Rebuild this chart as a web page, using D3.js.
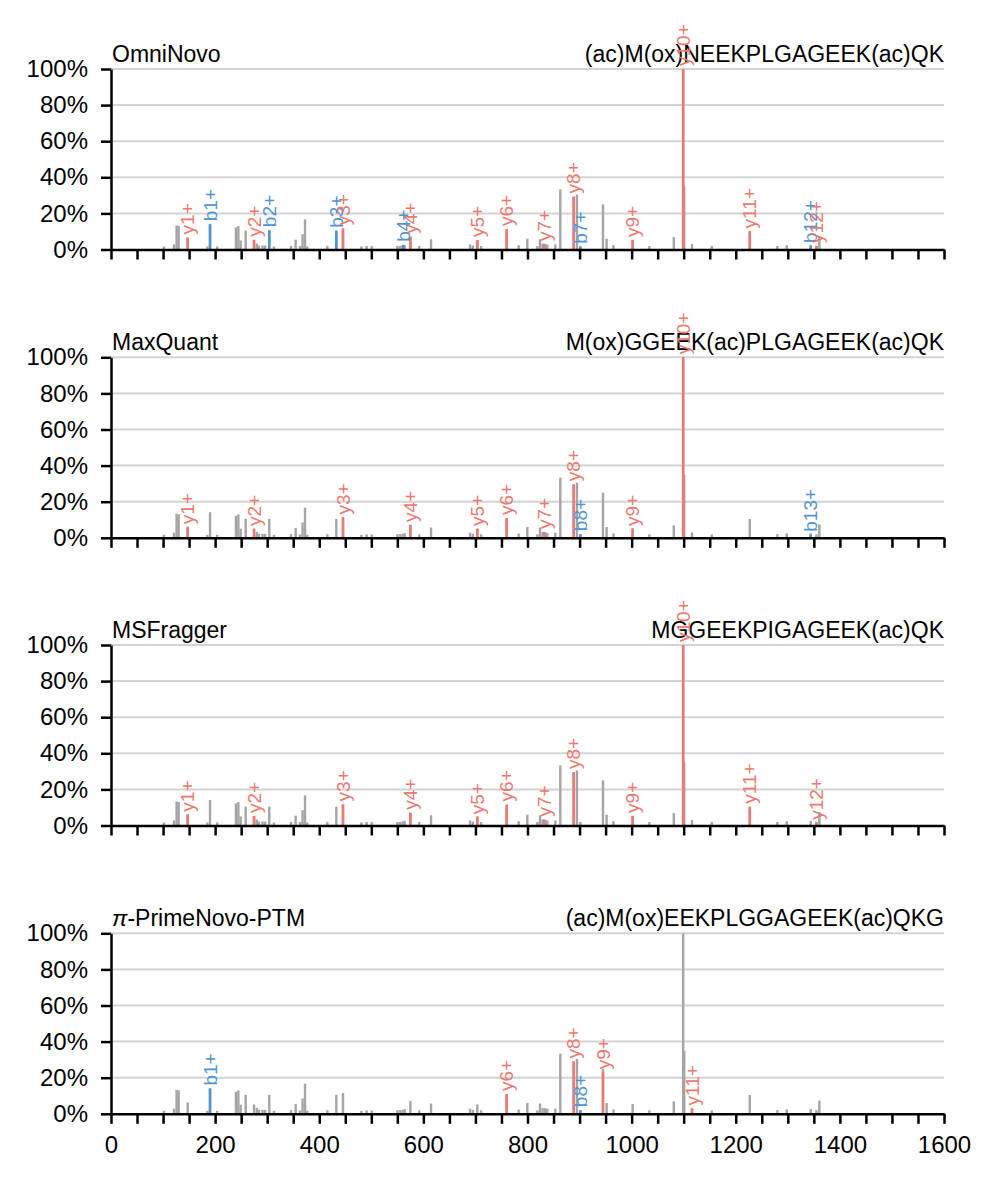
<!DOCTYPE html>
<html>
<head>
<meta charset="utf-8">
<script src="https://cdn.jsdelivr.net/npm/d3@7"></script>
<style>
  body { margin: 0; background: #fff; }
  svg text { font-family: "Liberation Sans", Arial, sans-serif; }
</style>
</head>
<body>
<svg id="chart" width="998" height="1185"></svg>
<script>
// panel names and predicted sequences
const methods = ["OmniNovo", "MaxQuant", "MSFragger", "PrimeNovo-PTM"];
const sequences = [
  "(ac)M(ox)NEEKPLGAGEEK(ac)QK",
  "M(ox)GGEEK(ac)PLGAGEEK(ac)QK",
  "MGGEEKPIGAGEEK(ac)QK",
  "(ac)M(ox)EEKPLGGAGEEK(ac)QKG"
];

// experimental spectrum (same in every panel): m/z and relative intensity %
const peakMz = [101.8, 121, 126, 130, 147.3, 185, 190.2, 204, 240, 244.6, 249, 258.7,
  274.7, 280, 284, 291, 296, 304, 313, 345.8, 354.7, 363, 368, 372.7, 377, 415.5,
  432.8, 445.6, 481, 491, 501, 550, 555, 560, 564, 575, 592, 614.7, 689.6, 695,
  703.6, 711, 760, 783, 799.7, 819, 824, 829, 834, 838, 853.5, 863, 888.8, 895,
  901.5, 945, 952, 965, 1002, 1034, 1081, 1099, 1101, 1116, 1154, 1227, 1280,
  1298, 1344, 1355, 1360.6];
const peakInt = [1.7, 2.8, 13.3, 13.0, 6.3, 1.7, 14.2, 1.7, 12.2, 13.0, 5.0, 10.5,
  5.2, 3.3, 2.2, 2.2, 2.2, 10.5, 1.7, 2.0, 5.4, 1.9, 8.5, 16.7, 1.7, 2.0,
  10.5, 11.5, 1.7, 1.9, 1.9, 2.0, 2.0, 2.2, 2.6, 7.2, 1.9, 5.7, 2.8, 2.2,
  5.2, 1.9, 11, 2.4, 6.0, 1.9, 5.7, 3.3, 3.1, 2.8, 2.8, 33.3, 29, 30.5,
  2.0, 25, 6, 2.4, 5.4, 1.9, 6.9, 100, 35, 3, 1.9, 10.4, 2.0,
  2.4, 2.6, 2.0, 7.4];

// matched fragment ions per panel: [label, m/z, intensity %]
const omniIons = [
  ["y1+", 147.3, 6.7], ["b1+", 190.2, 14], ["y2+", 274.7, 5.4], ["b2+", 304, 10.7],
  ["b3+", 432.8, 10.4], ["y3+", 445.6, 11.8], ["b4+", 561, 2.6], ["y4+", 575, 7],
  ["y5+", 703.6, 5.2], ["y6+", 760, 11.3], ["y7+", 832, 3], ["y8+", 888.8, 29.4],
  ["b7+", 901.5, 1.5], ["y9+", 1002, 5.2], ["y10+", 1099, 100], ["y11+", 1227, 10],
  ["b12+", 1344, 2], ["y12+", 1355, 2]
];
const maxquantIons = [
  ["y1+", 147.3, 5.8], ["y2+", 274.7, 4.9], ["y3+", 445.6, 11.2], ["y4+", 575, 7.1],
  ["y5+", 703.6, 4.9], ["y6+", 760, 11], ["y7+", 832, 3.2], ["y8+", 888.8, 29.7],
  ["b8+", 901.5, 2], ["y9+", 1002, 4.9], ["y10+", 1099, 100], ["b13+", 1344, 1.7]
];
const msfraggerIons = [
  ["y1+", 147.3, 6], ["y2+", 274.7, 5.2], ["y3+", 445.6, 11.7], ["y4+", 575, 7],
  ["y5+", 703.6, 4.6], ["y6+", 760, 11.7], ["y7+", 832, 3.3], ["y8+", 888.8, 29.6],
  ["y9+", 1002, 5.2], ["y10+", 1099, 100], ["y11+", 1227, 10.4], ["y12+", 1355, 1.5]
];
const primeIons = [
  ["b1+", 190.2, 14], ["y6+", 760, 11], ["y8+", 888.8, 29], ["b8+", 901.5, 2],
  ["y9+", 945, 23], ["y11+", 1116, 3]
];
const panelIons = [omniIons, maxquantIons, msfraggerIons, primeIons];

const xTicks = d3.range(0, 1601, 50);
const xLabelTicks = [0, 200, 400, 600, 800, 1000, 1200, 1400, 1600];
const yTicks = [0, 20, 40, 60, 80, 100];

const red = "#ec7a70", blue = "#4f95d6", grey = "#a5a5a5";

const svg = d3.select("#chart");
svg.append("rect").attr("width", 998).attr("height", 1185).attr("fill", "#fff");

const left = 111, right = 944;
const panelTop = [69, 357.3, 645, 933.3];
const panelH = 180.5;

const x = d3.scaleLinear().domain([0, 1600]).range([left, right]);

panelTop.forEach((top, i) => {
  const y = d3.scaleLinear().domain([0, 100]).range([top + panelH, top]);
  const g = svg.append("g");

  // gridlines
  g.selectAll(".grid").data(yTicks.slice(1)).join("line")
    .attr("x1", left).attr("x2", right)
    .attr("y1", d => y(d)).attr("y2", d => y(d))
    .attr("stroke", "#d4d4d4").attr("stroke-width", 2);

  // experimental peaks
  g.selectAll(".pk").data(d3.zip(peakMz, peakInt)).join("line")
    .attr("x1", d => x(d[0])).attr("x2", d => x(d[0]))
    .attr("y1", y(0)).attr("y2", d => y(d[1]))
    .attr("stroke", grey).attr("stroke-width", 2.4);

  // matched ions
  const ions = panelIons[i];
  const col = d => d[0][0] === "b" ? blue : red;
  g.selectAll(".ion").data(ions).join("line")
    .attr("x1", d => x(d[1])).attr("x2", d => x(d[1]))
    .attr("y1", y(0)).attr("y2", d => y(d[2]))
    .attr("stroke", col).attr("stroke-width", 2.6);

  // titles
  const t = g.append("text").attr("x", left + 1).attr("y", top - 7)
    .attr("font-size", 23).attr("fill", "#000");
  if (i === 3) {
    t.append("tspan").attr("font-style", "italic").text("π");
    t.append("tspan").text("-" + methods[i]);
  } else {
    t.text(methods[i]);
  }
  g.append("text").attr("x", right).attr("y", top - 7)
    .attr("text-anchor", "end").attr("font-size", 23).attr("fill", "#000")
    .text(sequences[i]);

  // ion labels
  g.selectAll(".lab").data(ions).join("text")
    .attr("transform", d => `translate(${x(d[1])},${y(d[2]) - 3}) rotate(-90)`)
    .attr("dy", "0.35em").attr("font-size", 19).attr("fill", col)
    .text(d => d[0]);

  // axes
  const xa = d3.axisBottom(x).tickValues(xTicks).tickSize(10).tickSizeOuter(0).tickPadding(12)
    .tickFormat(d => (i === 3 && xLabelTicks.includes(d)) ? d : "");
  const gx = g.append("g").attr("transform", `translate(0,${y(0)})`).call(xa);
  const ya = d3.axisLeft(y).tickValues(yTicks).tickSize(10).tickSizeOuter(0).tickPadding(13)
    .tickFormat(d => d + "%");
  const gy = g.append("g").attr("transform", `translate(${left},0)`).call(ya);
  [gx, gy].forEach(a => {
    a.select(".domain").attr("stroke", "#000").attr("stroke-width", 2.5);
    a.selectAll(".tick line").attr("stroke", "#000").attr("stroke-width", 2.5);
    a.selectAll(".tick text").attr("font-size", 24).attr("fill", "#000")
      .attr("font-family", "'Liberation Sans', Arial, sans-serif");
  });
});
</script>
</body>
</html>
